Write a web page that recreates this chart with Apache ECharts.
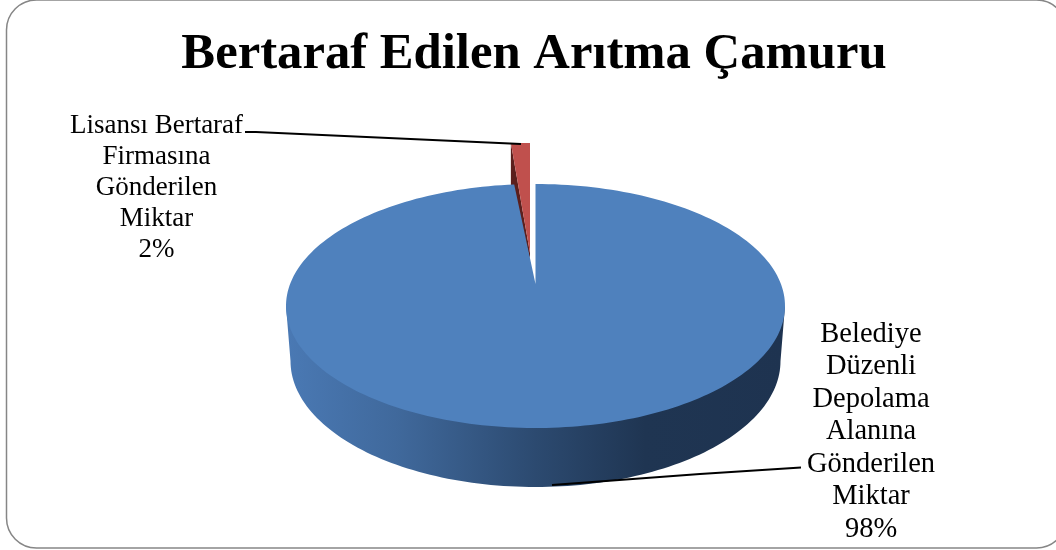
<!DOCTYPE html>
<html>
<head>
<meta charset="utf-8">
<style>html,body{margin:0;padding:0;background:#fff}#c{width:1056px;height:550px}</style>
<script src="https://cdn.jsdelivr.net/npm/echarts@6/dist/echarts.min.js"></script>
</head>
<body>
<div id="c"></div>
<script>
const titleText = 'Bertaraf Edilen Arıtma Çamuru';
const categories = ['Belediye\nDüzenli\nDepolama\nAlanına\nGönderilen\nMiktar', 'Lisansı Bertaraf\nFirmasına\nGönderilen\nMiktar'];
const values = [98, 2];

const FONT = '"Liberation Serif", serif';
const chart = echarts.init(document.getElementById('c'), null, {renderer: 'canvas'});

// layout of the tilted disc
const top_ = {cx: 535.5, cy: 306, rx: 249.5, ry: 122};
const base = {cx: 535.5, cy: 361, rx: 245, ry: 126};
const apex = {x: 535.5, y: 284};
const perspective = 0.68;       // foreshortening of angles near the far rim

function pt(e, t) { return [e.cx + e.rx * Math.sin(t), e.cy - e.ry * Math.cos(t)]; }
function arc(e, a, b, n) {
  const out = [];
  for (let i = 0; i <= n; i++) out.push(pt(e, a + (b - a) * i / n));
  return out;
}

function renderItem(params, api) {
  const total = values.reduce((a, b) => a + b, 0);
  const smallAngle = (values[1] / total) * 2 * Math.PI;
  const blueEnd = 2 * Math.PI - smallAngle * perspective;

  // side wall
  const wall = {
    type: 'polygon',
    shape: {points: [[top_.cx - top_.rx, top_.cy]].concat(
      arc(base, 1.5 * Math.PI, 0.5 * Math.PI, 120), [[top_.cx + top_.rx, top_.cy]])},
    style: {fill: new echarts.graphic.LinearGradient(0, 0, 1, 0, [
      {offset: 0, color: '#4a79b4'},
      {offset: 0.22, color: '#40699c'},
      {offset: 0.5, color: '#2c4a70'},
      {offset: 0.72, color: '#1f3552'},
      {offset: 1, color: '#1e3350'}
    ])}
  };

  // exploded small slice
  const rTopRight = [530, 143], rApex = [530, 253];
  const rLeftX = rTopRight[0] - top_.rx * Math.sin(smallAngle * 0.61);
  const rTopLeft = [rLeftX, 143];
  const redWall = {
    type: 'polygon',
    shape: {points: [rTopLeft, [rLeftX, 190], [530, 259], rApex]},
    style: {fill: '#5b1f1d'}
  };
  const redTop = {
    type: 'polygon',
    shape: {points: [rTopLeft, rTopRight, rApex]},
    style: {fill: '#c0504d'}
  };

  // large slice top
  const blueTop = {
    type: 'polygon',
    shape: {points: arc(top_, 0, blueEnd, 240).concat([[apex.x, apex.y]])},
    style: {fill: '#4f81bd'}
  };

  const lbl = (i, x, y, lh, size) => ({
    type: 'text',
    x: x, y: y,
    style: {
      text: categories[i] + '\n' + Math.round(values[i] / total * 100) + '%',
      font: size + 'px ' + FONT, fill: '#000', align: 'center', verticalAlign: 'top', lineHeight: lh
    }
  });
  const leader = (pts) => ({
    type: 'polyline',
    shape: {points: pts},
    style: {stroke: '#000', lineWidth: 2, fill: null}
  });

  return {
    type: 'group',
    children: [
      wall, redWall, redTop, blueTop,
      leader([[245, 132], [256, 132], [521, 144]]),
      leader([[552, 485], [700, 474], [801, 467.5]]),
      lbl(0, 871, 318, 32.5, 28.5),
      lbl(1, 156.5, 110, 31, 27)
    ]
  };
}

chart.setOption({
  animation: false,
  backgroundColor: '#fff',
  title: {
    text: titleText, left: 529, top: 24, textAlign: 'center',
    textStyle: {fontFamily: FONT, fontWeight: 'bold', fontSize: 50.7, color: '#000'}
  },
  graphic: [{
    type: 'rect',
    shape: {x: 6.5, y: 0, width: 1060, height: 548, r: 30},
    style: {fill: 'none', stroke: '#868686', lineWidth: 1.5},
    silent: true
  }],
  series: [{
    type: 'custom',
    coordinateSystem: 'none',
    data: [values],
    renderItem: renderItem,
    silent: true
  }]
});
</script>
</body>
</html>
